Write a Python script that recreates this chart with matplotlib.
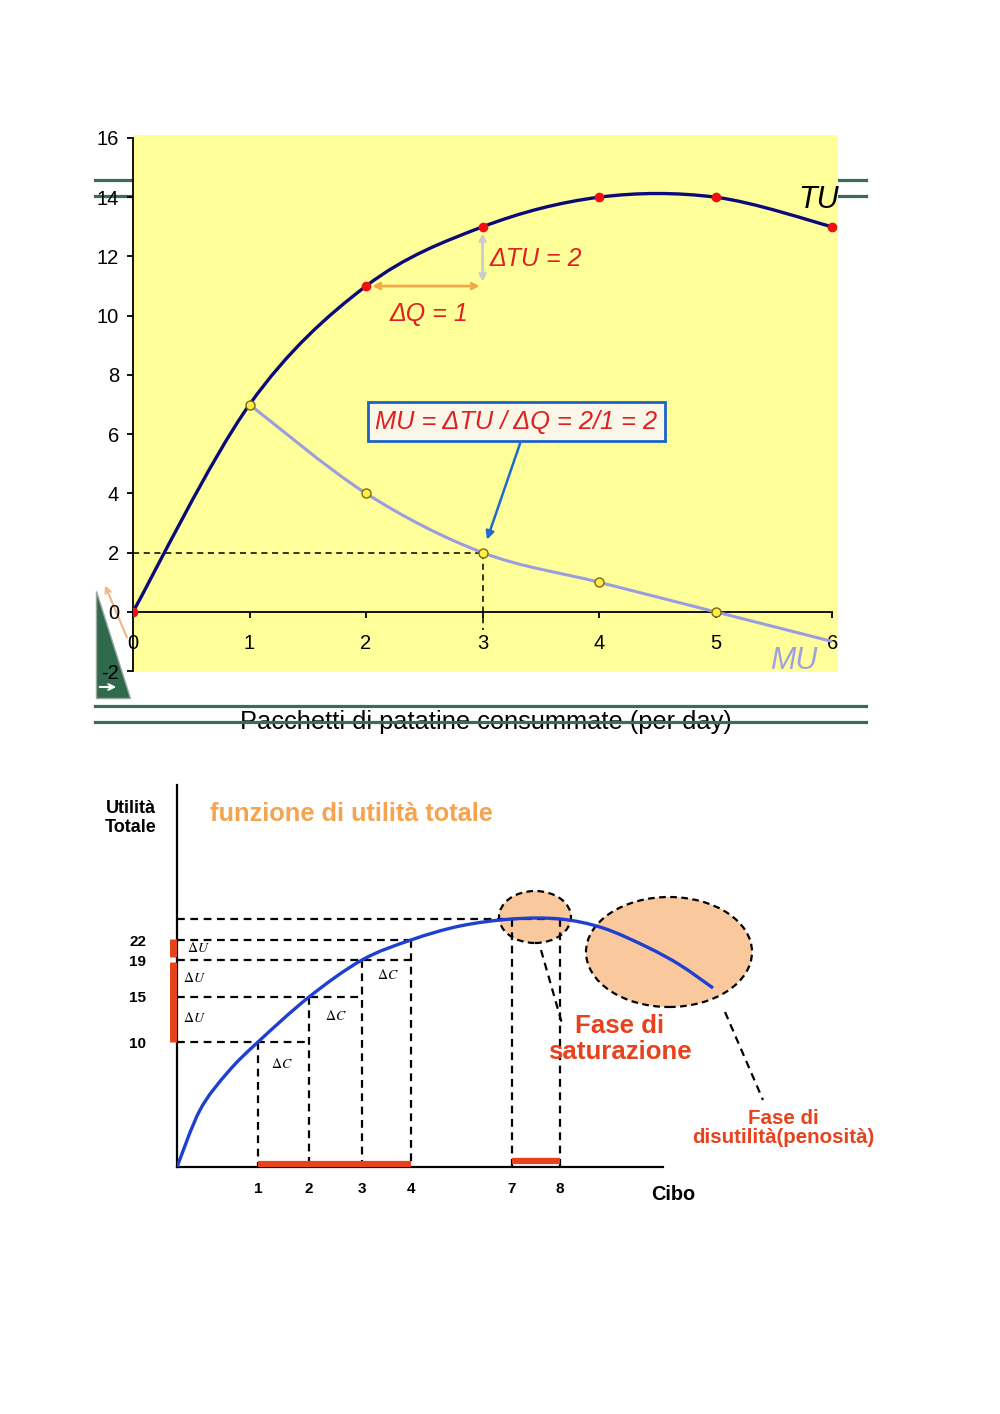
import numpy as np
import matplotlib
matplotlib.use('Agg')
import matplotlib.pyplot as plt
from matplotlib.path import Path
from matplotlib.patches import PathPatch, Ellipse, Polygon

plt.rcParams['font.family'] = ['Liberation Sans', 'DejaVu Sans']
plt.rcParams['mathtext.fontset'] = 'stix'
plt.rcParams['axes.unicode_minus'] = False

# ---------- dati grafico 1 (utilità totale / marginale) ----------
q = [0, 1, 2, 3, 4, 5, 6]
tu = [0, 7, 11, 13, 14, 14, 13]
q_mu = [1, 2, 3, 4, 5, 6]
mu = [7, 4, 2, 1, 0, -1]
x_ticks_top = [0, 1, 2, 3, 4, 5, 6]
y_ticks_top = [-2, 0, 2, 4, 6, 8, 10, 12, 14, 16]

# ---------- dati grafico 2 (funzione di utilità totale, schema) ----------
cibo_pos = [1.62, 2.64, 3.70, 4.68, 6.70, 7.66]
cibo_lab = ['1', '2', '3', '4', '7', '8']
util_pos = [2.50, 3.40, 4.14, 4.54]
util_lab = ['10', '15', '19', '22']
util_max = 4.96
curva_x = [0, 0.46, 1.02, 1.62, 2.64, 3.70, 4.68, 5.66, 6.70, 7.66, 8.52, 9.40, 10.06, 10.72]
curva_y = [0, 1.14, 1.90, 2.50, 3.40, 4.14, 4.54, 4.82, 4.96, 4.96, 4.78, 4.40, 4.04, 3.58]


def smooth_path(xs, ys):
    # linea "smussata" tipo Excel (Catmull-Rom -> Bezier)
    pts = np.column_stack([xs, ys]).astype(float)
    p = np.vstack([pts[0], pts, pts[-1]])
    verts = [pts[0]]
    codes = [Path.MOVETO]
    for i in range(1, len(p) - 2):
        c1 = p[i] + (p[i + 1] - p[i - 1]) / 6
        c2 = p[i + 1] - (p[i + 2] - p[i]) / 6
        verts += [c1, c2, p[i + 1]]
        codes += [Path.CURVE4] * 3
    return Path(verts, codes)


fig = plt.figure(figsize=(10, 14.14), dpi=100)
fig.patch.set_facecolor('white')

# sfondo: residui della slide (linee verdi, triangolo)
bg = fig.add_axes([0, 0, 1, 1], zorder=0)
bg.set_xlim(0, 1000)
bg.set_ylim(1414, 0)
bg.axis('off')
verde = '#3a6e54'
for yy in [180, 196]:
    bg.plot([95, 866], [yy, yy], color=verde, lw=2.3)
bg.add_patch(Polygon([[96, 591], [96, 698], [130, 698]], closed=True,
                     facecolor='#2f6a4c', edgecolor='#9aa8a0', lw=1))
bg.annotate('', xy=(104, 583), xytext=(128, 640),
            arrowprops=dict(arrowstyle='->', color='#f2b483', lw=1.5))
bg.annotate('', xy=(119, 687), xytext=(97, 687),
            arrowprops=dict(arrowstyle='->', color='white', lw=1.5))
bg.text(486, 722, 'Pacchetti di patatine consummate (per day)', fontsize=18.3,
        ha='center', va='center', zorder=2)
for yy in [706, 722]:
    bg.plot([95, 866], [yy, yy], color=verde, lw=2.3, zorder=3)

# ---------- grafico 1 ----------
ax = fig.add_axes([0.133, 1 - 672 / 1414, 0.705, (672 - 135) / 1414], zorder=2)
ax.set_facecolor('#ffff99')
ax.set_xlim(0, 6.05)
ax.set_ylim(-2.03, 16.1)
for s in ['top', 'right']:
    ax.spines[s].set_visible(False)
ax.spines['left'].set_bounds(-2, 16)
ax.spines['bottom'].set_position(('data', 0))
ax.spines['bottom'].set_bounds(0, 6)
ax.spines['left'].set_linewidth(1.3)
ax.spines['bottom'].set_linewidth(1.3)
ax.set_xticks(x_ticks_top)
ax.set_yticks(y_ticks_top)
ax.tick_params(axis='both', direction='out', length=4, width=1.3, labelsize=14.5)
ax.tick_params(axis='x', pad=12)
ax.tick_params(axis='y', pad=6)

ax.add_patch(PathPatch(smooth_path(q_mu, mu), fill=False, edgecolor='#9c9ce0', lw=2.2, zorder=3))
ax.add_patch(PathPatch(smooth_path(q, tu), fill=False, edgecolor='#0a0a7a', lw=2.4, zorder=4))
ax.plot(q[2:] + [0], tu[2:] + [0], 'o', ls='none', color='#ee1111', ms=6, zorder=5)
ax.plot(q_mu[:-1], mu[:-1], 'o', ls='none', mfc='#ffee44', mec='#7a6a10', mew=1, ms=6.5, zorder=6)

ax.plot([0, q[3]], [mu[2], mu[2]], color='black', ls=(0, (4, 3)), lw=1.1, zorder=2)
ax.plot([q[3], q[3]], [mu[2], -0.6], color='black', ls=(0, (4, 3)), lw=1.1, zorder=2)

ax.annotate('', xy=(q[2] + 0.03, tu[2]), xytext=(q[3], tu[2]),
            arrowprops=dict(arrowstyle='<->', color='#f0a848', lw=2, mutation_scale=10), zorder=3)
ax.annotate('', xy=(q[3], tu[3] - 0.12), xytext=(q[3], tu[2] + 0.05),
            arrowprops=dict(arrowstyle='<->', color='#cccccc', lw=2, mutation_scale=10), zorder=3)
rosso = '#e02020'
ax.text(3.06, 11.9, '\u0394TU = 2', color=rosso, fontsize=18, style='italic', va='center')
ax.text(2.54, 10.07, '\u0394Q = 1', color=rosso, fontsize=18, style='italic', va='center', ha='center')
ax.text(3.29, 6.42, 'MU = \u0394TU / \u0394Q = 2/1 = 2', color=rosso, fontsize=18.3, style='italic',
        ha='center', va='center', zorder=7,
        bbox=dict(boxstyle='square,pad=0.3', facecolor='#faf6e8', edgecolor='#1e64c8', lw=2))
ax.annotate('', xy=(3.03, 2.35), xytext=(3.33, 5.78),
            arrowprops=dict(arrowstyle='-|>', color='#1e6ad0', lw=1.8, mutation_scale=12), zorder=7)
ax.text(5.88, 13.92, 'TU', fontsize=22, style='italic', ha='center', va='center')
ax.text(5.67, -1.66, 'MU', fontsize=22, style='italic', ha='center', va='center', color='#a0a0e6')

# ---------- grafico 2 ----------
bx = fig.add_axes([0.177, (1414 - 1167) / 1414, 0.7, 400 / 1414], zorder=2)
bx.set_facecolor('none')
bx.set_xlim(0, 14)
bx.set_ylim(0, 8)
for s in ['top', 'right']:
    bx.spines[s].set_visible(False)
bx.spines['left'].set_bounds(0, 7.64)
bx.spines['bottom'].set_bounds(0, 9.72)
bx.spines['left'].set_linewidth(1.6)
bx.spines['bottom'].set_linewidth(1.6)
bx.set_xticks(cibo_pos, cibo_lab)
bx.set_yticks(util_pos, util_lab)
bx.tick_params(axis='both', length=0, labelsize=11)
bx.tick_params(axis='x', pad=11)
bx.tick_params(axis='y', pad=22)
for lab in bx.get_xticklabels() + bx.get_yticklabels():
    lab.set_fontweight('bold')

pesca = '#f9c89c'
bx.add_patch(Ellipse((7.16, 5.0), 1.44, 1.04, facecolor=pesca, edgecolor='black',
                     ls=(0, (3, 2)), lw=1.6, zorder=1))
bx.add_patch(Ellipse((9.84, 4.30), 3.32, 2.2, facecolor=pesca, edgecolor='black',
                     ls=(0, (3, 2)), lw=1.6, zorder=1))

tratt = dict(color='black', ls=(0, (3.5, 2.5)), lw=1.6, zorder=2)
bx.plot([0, cibo_pos[5]], [util_max, util_max], **tratt)
bx.plot([0, cibo_pos[3]], [util_pos[3], util_pos[3]], **tratt)
bx.plot([0, cibo_pos[3]], [util_pos[2], util_pos[2]], **tratt)
bx.plot([0, cibo_pos[2]], [util_pos[1], util_pos[1]], **tratt)
bx.plot([0, cibo_pos[1]], [util_pos[0], util_pos[0]], **tratt)
for xv, yv in zip(cibo_pos[:4], util_pos):
    bx.plot([xv, xv], [yv, 0], **tratt)
for xv in cibo_pos[4:]:
    bx.plot([xv, xv], [util_max, 0], **tratt)
bx.plot([7.28, 7.72], [4.34, 2.80], **tratt)
bx.plot([10.96, 11.72], [3.10, 1.34], **tratt)

bx.add_patch(PathPatch(smooth_path(curva_x, curva_y), fill=False, edgecolor='#1f3fd0', lw=2.4, zorder=4))

arancio = '#e8421c'
bx.vlines(-0.09, util_pos[0], util_pos[2] - 0.04, color=arancio, lw=5, clip_on=False, zorder=3)
bx.vlines(-0.09, util_pos[2] + 0.06, util_pos[3] + 0.03, color=arancio, lw=5, clip_on=False, zorder=3)
bx.hlines(0.07, cibo_pos[0], cibo_pos[3], color=arancio, lw=4.5, zorder=3)
bx.hlines(0.12, cibo_pos[4], cibo_pos[5], color=arancio, lw=4.5, zorder=3)

for (xx, yy) in [(0.42, 4.38), (0.34, 3.78), (0.34, 2.98)]:
    bx.text(xx, yy, r'$\Delta U$', fontsize=10, ha='center', va='center')
for (xx, yy) in [(2.1, 2.06), (3.18, 3.02), (4.22, 3.84)]:
    bx.text(xx, yy, r'$\Delta C$', fontsize=10, ha='center', va='center')

bx.text(-0.92, 6.98, 'Utilità\nTotale', fontsize=13, fontweight='bold', ha='center', va='center')
bx.text(0.66, 7.06, 'funzione di utilità totale', fontsize=18.3, fontweight='bold',
        color='#f5a34e', ha='left', va='center')
bx.text(8.86, 2.56, 'Fase di\nsaturazione', fontsize=18.6, fontweight='bold', color=arancio,
        ha='center', va='center', linespacing=1.1, zorder=5)
bx.text(12.12, 0.78, 'Fase di\ndisutilità(penosità)', fontsize=14.8, fontweight='bold', color=arancio,
        ha='center', va='center', linespacing=1.05)
bx.text(9.92, -0.56, 'Cibo', fontsize=14.3, fontweight='bold', ha='center', va='center')

fig.savefig('out.png', dpi=100)
